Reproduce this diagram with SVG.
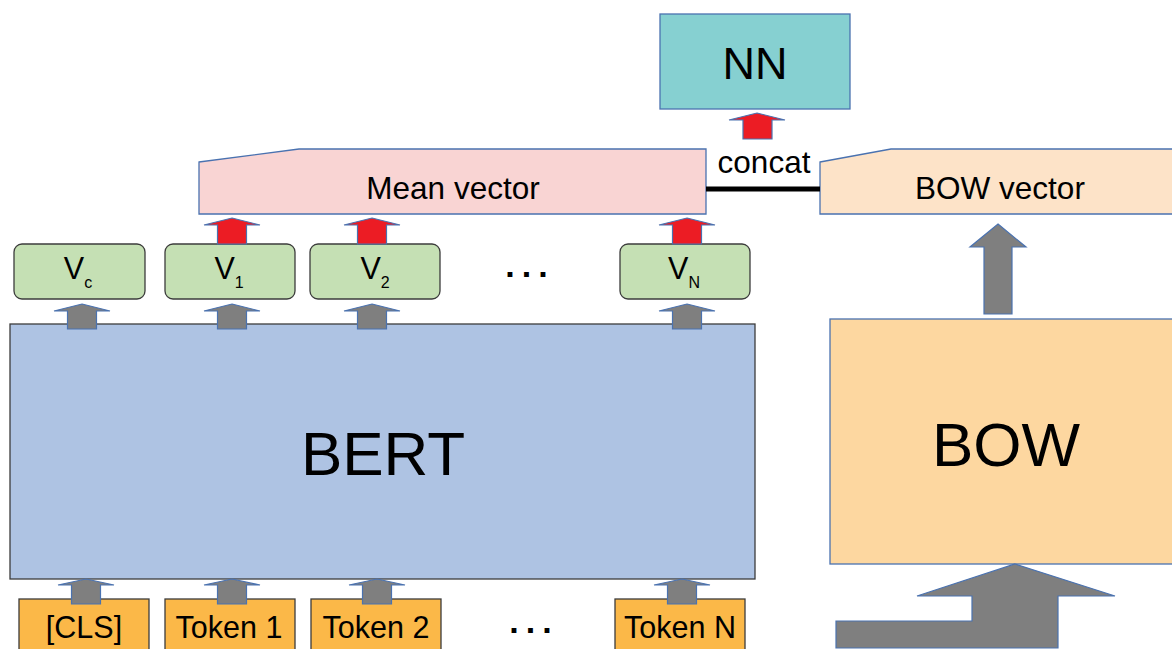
<svg xmlns="http://www.w3.org/2000/svg" width="1172" height="649" viewBox="0 0 1172 649">
<style>
text{font-family:"Liberation Sans",Arial,sans-serif;fill:#000}
.blue{stroke:#4a72b0;stroke-width:1.3}
.dark{stroke:#3c3c3c;stroke-width:1.3}
.v{fill:#c5e0b4}
.tok{fill:#fbb848}
.gray{fill:#7f7f7f;stroke:#4a72b0;stroke-width:1.2}
.red{fill:#ec1c24;stroke:#4a72b0;stroke-width:1.2}
.lbl{font-size:30.5px;text-anchor:middle}
.vec{font-size:31.5px;text-anchor:middle}
.sub{font-size:16px}
.dots{font-size:34px;font-weight:bold;text-anchor:middle;letter-spacing:7px}
</style>
<rect width="1172" height="649" fill="#fff"/>

<g id="nn"><rect x="660" y="14" width="190" height="95" fill="#86d0d1" class="blue"/><text x="755" y="79" font-size="45" text-anchor="middle">NN</text></g>

<g id="mean-vector"><polygon points="199,162 299,149 706,149 706,214 199,214" fill="#f9d4d3" class="blue"/><text x="453" y="199" class="vec">Mean vector</text></g>

<g id="bow-vector"><polygon points="820,162 891,149 1180,149 1180,214 820,214" fill="#fde3c8" class="blue"/><text x="1000" y="199" class="vec">BOW vector</text></g>

<g id="bow"><rect x="830" y="319" width="360" height="245" fill="#fdd7a0" class="blue"/><text x="1006" y="466" font-size="62" text-anchor="middle">BOW</text></g>

<g id="bert"><rect x="10" y="324" width="745" height="255" fill="#aec3e3" class="dark"/><text x="383" y="475" font-size="62" text-anchor="middle">BERT</text></g>

<g id="vc"><rect x="14" y="244" width="131" height="55" rx="8" class="v dark"/><text x="78" y="279" class="lbl">V<tspan class="sub" dy="9">c</tspan></text></g>
<g id="v1"><rect x="165" y="244" width="130" height="55" rx="8" class="v dark"/><text x="229" y="279" class="lbl">V<tspan class="sub" dy="9">1</tspan></text></g>
<g id="v2"><rect x="310" y="244" width="130" height="55" rx="8" class="v dark"/><text x="375" y="279" class="lbl">V<tspan class="sub" dy="9">2</tspan></text></g>
<g id="vn"><rect x="620" y="244" width="130" height="55" rx="8" class="v dark"/><text x="684" y="279" class="lbl">V<tspan class="sub" dy="9">N</tspan></text></g>
<g id="v-dots"><text x="530" y="277" class="dots">...</text></g>

<g id="cls"><rect x="19" y="599" width="130" height="60" class="tok dark"/><text x="84" y="638" class="lbl">[CLS]</text></g>
<g id="token1"><rect x="165" y="599" width="130" height="60" class="tok dark"/><text x="229" y="638" class="lbl">Token 1</text></g>
<g id="token2"><rect x="311" y="599" width="130" height="60" class="tok dark"/><text x="376" y="638" class="lbl">Token 2</text></g>
<g id="tokenn"><rect x="615" y="599" width="130" height="60" class="tok dark"/><text x="680" y="638" class="lbl">Token N</text></g>
<g id="token-dots"><text x="534" y="633" class="dots">...</text></g>

<g id="connectors">
<line x1="706" y1="189" x2="820" y2="189" stroke="#000" stroke-width="5"/>
<text x="764" y="173" class="vec">concat</text>
<polygon class="red" points="757,113 785,120 772,120 772,139 743,139 743,120 729,120"/>
<polygon class="red" points="232,218 260,225 246.5,225 246.5,244 217.5,244 217.5,225 204,225"/>
<polygon class="red" points="372,218 400,225 386.5,225 386.5,244 357.5,244 357.5,225 344,225"/>
<polygon class="red" points="687,218 715,225 701.5,225 701.5,244 672.5,244 672.5,225 659,225"/>
<polygon class="gray" points="82,304 110,311 96.5,311 96.5,329 67.5,329 67.5,311 54,311"/>
<polygon class="gray" points="232,304 260,311 246.5,311 246.5,329 217.5,329 217.5,311 204,311"/>
<polygon class="gray" points="372,304 400,311 386.5,311 386.5,329 357.5,329 357.5,311 344,311"/>
<polygon class="gray" points="687,304 715,311 701.5,311 701.5,329 672.5,329 672.5,311 659,311"/>
<polygon class="gray" points="86,579 114,585 100.5,585 100.5,604 71.5,604 71.5,585 58,585"/>
<polygon class="gray" points="232,579 260,585 246.5,585 246.5,604 217.5,604 217.5,585 204,585"/>
<polygon class="gray" points="377,579 405,585 391.5,585 391.5,604 362.5,604 362.5,585 349,585"/>
<polygon class="gray" points="682,579 710,585 696.5,585 696.5,604 667.5,604 667.5,585 654,585"/>
<polygon class="gray" points="998,224 1026,247 1012,247 1012,314 984,314 984,247 970,247"/>
<polygon class="gray" points="1015,564 1115,596 1058,596 1058,648 836,648 836,621 972,621 972,596 917,596"/>
</g>
</svg>
